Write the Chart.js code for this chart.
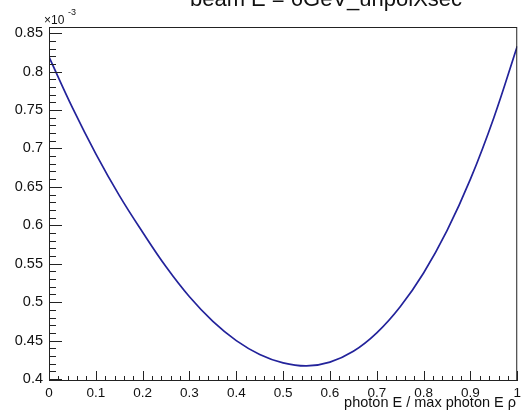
<!DOCTYPE html>
<html>
<head>
<meta charset="utf-8">
<script src="https://cdn.jsdelivr.net/npm/chart.js@4.4.1/dist/chart.umd.min.js"></script>
<style>
  html, body { margin: 0; padding: 0; background: #fff; }
</style>
</head>
<body>
<canvas id="chart" width="525" height="417"></canvas>
<script>
// photon E / max photon E (rho)
const xValues = [0, 0.05, 0.1, 0.15, 0.2, 0.25, 0.3, 0.35, 0.4, 0.45, 0.5,
  0.55, 0.6, 0.65, 0.7, 0.75, 0.8, 0.85, 0.9, 0.95, 1];
// unpolarised cross section, in units of 10^-3
const yValues = [0.819, 0.753, 0.693, 0.639, 0.591, 0.546, 0.507, 0.475, 0.450, 0.432, 0.421,
  0.417, 0.422, 0.436, 0.460, 0.494, 0.538, 0.593, 0.660, 0.740, 0.833];

const xTickValues = [0, 0.1, 0.2, 0.3, 0.4, 0.5, 0.6, 0.7, 0.8, 0.9, 1];
const yTickValues = [0.4, 0.45, 0.5, 0.55, 0.6, 0.65, 0.7, 0.75, 0.8, 0.85];

const title = "beam E = 6GeV_unpolXsec";
const xTitle = "photon E / max photon E \u03c1";

const FONT = "'Liberation Sans', Arial, Helvetica, sans-serif";

// ROOT-like frame with inward ticks, plus title and axis texts
const rootFrame = {
  id: "rootFrame",
  afterDraw(chart) {
    const { ctx, chartArea: a, scales: { x, y } } = chart;
    ctx.save();

    ctx.strokeStyle = "#222";
    ctx.lineWidth = 1;
    ctx.strokeRect(a.left + 0.5, a.top + 0.5, a.right - a.left - 1, a.bottom - a.top - 1);

    ctx.beginPath();
    // y ticks: major every 0.05, minor every 0.01
    for (let i = 0; ; i++) {
      const v = Math.round((y.min + 0.0025) * 100) / 100 + i * 0.01;
      if (v > y.max) break;
      const major = Math.abs(v * 20 - Math.round(v * 20)) < 1e-6;
      const py = Math.round(y.getPixelForValue(v)) + 0.5;
      ctx.moveTo(a.left, py);
      ctx.lineTo(a.left + (major ? 13 : 7), py);
    }
    // x ticks: major every 0.1, minor every 0.02
    for (let i = 0; i <= 50; i++) {
      const v = i * 0.02;
      const major = i % 5 === 0;
      const px = Math.round(x.getPixelForValue(v)) + 0.5;
      ctx.moveTo(px, a.bottom);
      ctx.lineTo(px, a.bottom - (major ? 10 : 5));
    }
    ctx.stroke();

    ctx.fillStyle = "#111";
    ctx.textBaseline = "alphabetic";

    ctx.font = `22px ${FONT}`;
    ctx.textAlign = "center";
    ctx.fillText(title, 326, 6);

    ctx.font = `12px ${FONT}`;
    ctx.textAlign = "left";
    ctx.fillText("\u00d710", 44, 24);
    ctx.font = `9px ${FONT}`;
    ctx.fillText("-3", 68, 15);

    ctx.font = `14.5px ${FONT}`;
    ctx.textAlign = "right";
    ctx.fillText(xTitle, 516, 407);

    ctx.restore();
  }
};

const canvas = document.getElementById("chart");
new Chart(canvas.getContext("2d"), {
  type: "line",
  data: {
    datasets: [
      {
        data: xValues.map((v, i) => ({ x: v, y: yValues[i] })),
        borderColor: "#23239b",
        borderWidth: 1.7,
        pointRadius: 0,
        tension: 0.4,
        fill: false
      }
    ]
  },
  options: {
    responsive: false,
    devicePixelRatio: 1,
    animation: false,
    layout: { padding: { top: 27, right: 1, left: 0, bottom: 0 } },
    plugins: {
      legend: { display: false },
      tooltip: { enabled: false }
    },
    scales: {
      x: {
        type: "linear",
        min: 0,
        max: 1,
        afterFit: (scale) => { scale.height = 36; },
        afterBuildTicks: (scale) => { scale.ticks = xTickValues.map((v) => ({ value: v })); },
        grid: { display: false, drawTicks: false },
        border: { display: false },
        ticks: {
          padding: 4,
          maxRotation: 0,
          autoSkip: false,
          color: "#111",
          font: { family: FONT, size: 13.5 },
          callback: (v) => String(v)
        }
      },
      y: {
        type: "linear",
        min: 0.3974,
        max: 0.858,
        afterFit: (scale) => { scale.width = 49; },
        afterBuildTicks: (scale) => { scale.ticks = yTickValues.map((v) => ({ value: v })); },
        grid: { display: false, drawTicks: false },
        border: { display: false },
        ticks: {
          padding: 6,
          autoSkip: false,
          color: "#111",
          font: { family: FONT, size: 14.5 },
          callback: (v) => String(v)
        }
      }
    }
  },
  plugins: [rootFrame]
});
</script>
</body>
</html>
